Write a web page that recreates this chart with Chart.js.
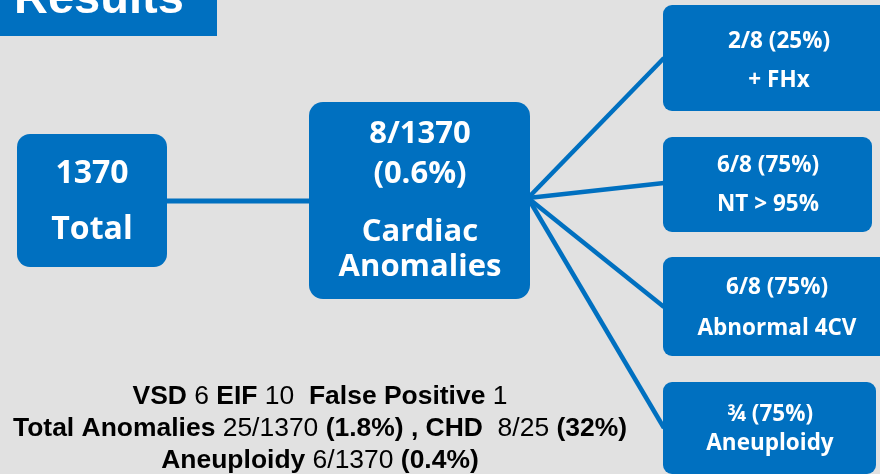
<!DOCTYPE html>
<html>
<head>
<meta charset="utf-8">
<script src="https://cdn.jsdelivr.net/npm/chart.js@4/dist/chart.umd.min.js"></script>
<style>
html,body{margin:0;padding:0;background:#e1e1e1;}
#wrap{width:880px;height:474px;position:relative;}
</style>
</head>
<body>
<div id="wrap"><canvas id="c" width="880" height="474"></canvas></div>
<script>
// ---- content (data) ----
const titleText = "Results";
const totalLines = ["1370", "Total"];
const cardiacLines = ["8/1370", "(0.6%)", "Cardiac", "Anomalies"];
const markerValues = ["2/8 (25%)", "6/8 (75%)", "6/8 (75%)", "¾ (75%)"];
const markerNames = ["+ FHx", "NT > 95%", "Abnormal 4CV", "Aneuploidy"];
const summaryLine1 = [["VSD", 1], [" 6 ", 0], ["EIF", 1], [" 10  ", 0], ["False Positive", 1], [" 1", 0]];
const summaryLine2 = [["Total Anomalies", 1], [" 25/1370 ", 0], ["(1.8%)", 1], [" , CHD", 1], ["  8/25 ", 0], ["(32%)", 1]];
const summaryLine3 = [["Aneuploidy", 1], [" 6/1370 ", 0], ["(0.4%)", 1]];

// ---- layout (positions / sizes, in data units of the 880x474 scales) ----
const BLUE = "#0070c0";
const BG = "#e1e1e1";
const totalBox = {x0: 17, y0: 134, x1: 167, y1: 267, r: 13, cx: 92, ys: [172, 228]};
const cardiacBox = {x0: 309, y0: 102, x1: 530, y1: 299, r: 14, cx: 420, ys: [132, 172, 230, 265]};
const markerBoxes = [
  {x0: 663, y0: 5, x1: 895, y1: 111, cx: 779, ys: [40, 79]},
  {x0: 663, y0: 137, x1: 872, y1: 232, cx: 768, ys: [164, 203]},
  {x0: 663, y0: 257, x1: 895, y1: 356, cx: 777, ys: [286, 327]},
  {x0: 663, y0: 382, x1: 876, y1: 474, cx: 770, ys: [413, 442]}
];
const hub = {x: 530, y: 198};
const markerEnds = [{x: 663, y: 58}, {x: 663, y: 183}, {x: 663, y: 307}, {x: 663, y: 428}];
const summaryYs = [394.5, 426.5, 459];
const summaryCx = 320;
const summaryWidth2 = 614;

const connectorData = [
  [{x: totalBox.x1 - 2, y: 201}, {x: cardiacBox.x0 + 2, y: 201}]
].concat(markerEnds.map(e => [{x: hub.x - 2, y: hub.y}, {x: e.x + 1, y: e.y}]));

const datasets = connectorData.map((d, i) => ({
  data: d,
  showLine: true,
  borderColor: BLUE,
  borderWidth: i === 0 ? 5 : 4.5,
  pointRadius: 0,
  borderCapStyle: 'butt',
  clip: false
}));

function rr(ctx, x0, y0, x1, y1, r) {
  ctx.beginPath();
  ctx.roundRect(x0, y0, x1 - x0, y1 - y0, r);
  ctx.fill();
}

const diagramPlugin = {
  id: 'diagram',
  beforeDraw(chart) {
    const ctx = chart.ctx;
    ctx.save();
    ctx.fillStyle = BG;
    ctx.fillRect(0, 0, chart.width, chart.height);
    ctx.restore();
  },
  afterDatasetsDraw(chart) {
    const ctx = chart.ctx;
    const xs = chart.scales.x, ys = chart.scales.y;
    const X = v => xs.getPixelForValue(v), Y = v => ys.getPixelForValue(v);
    ctx.save();
    // title
    ctx.fillStyle = BLUE;
    ctx.fillRect(X(0), Y(0), X(217) - X(0), Y(36) - Y(0));
    ctx.fillStyle = "#fff";
    ctx.font = "bold 47px 'Liberation Sans', Arial, sans-serif";
    ctx.textBaseline = "alphabetic";
    ctx.textAlign = "left";
    ctx.fillText(titleText, X(14), Y(13));

    const drawBoxText = (box, lines, size) => {
      ctx.fillStyle = "#fff";
      ctx.font = "bold " + size + "px 'Open Sans', 'Noto Sans', sans-serif";
      ctx.textAlign = "center";
      ctx.textBaseline = "alphabetic";
      const cap = size * 0.714;
      lines.forEach((t, i) => ctx.fillText(t, X(box.cx), Y(box.ys[i]) + cap / 2));
    };
    // big boxes
    ctx.fillStyle = BLUE;
    rr(ctx, X(totalBox.x0), Y(totalBox.y0), X(totalBox.x1), Y(totalBox.y1), totalBox.r);
    drawBoxText(totalBox, totalLines, 32);
    ctx.fillStyle = BLUE;
    rr(ctx, X(cardiacBox.x0), Y(cardiacBox.y0), X(cardiacBox.x1), Y(cardiacBox.y1), cardiacBox.r);
    drawBoxText(cardiacBox, cardiacLines, 31);
    // marker boxes
    markerBoxes.forEach((b, i) => {
      ctx.fillStyle = BLUE;
      rr(ctx, X(b.x0), Y(b.y0), X(b.x1), Y(b.y1), 9);
      drawBoxText(b, [markerValues[i], markerNames[i]], 22.5);
    });

    // summary text
    const size = 26;
    const fB = "bold " + size + "px 'Liberation Sans', Arial, sans-serif";
    const fN = size + "px 'Liberation Sans', Arial, sans-serif";
    const widthOf = runs => runs.reduce((s, r) => { ctx.font = r[1] ? fB : fN; return s + ctx.measureText(r[0]).width; }, 0);
    const sx = summaryWidth2 / widthOf(summaryLine2);
    ctx.fillStyle = "#000";
    ctx.textAlign = "left";
    ctx.textBaseline = "alphabetic";
    const capS = size * 0.716;
    [summaryLine1, summaryLine2, summaryLine3].forEach((runs, li) => {
      const w = widthOf(runs) * sx;
      ctx.save();
      ctx.translate(X(summaryCx) - w / 2, Y(summaryYs[li]) + capS / 2);
      ctx.scale(sx, 1);
      let x = 0;
      runs.forEach(r => {
        ctx.font = r[1] ? fB : fN;
        ctx.fillText(r[0], x, 0);
        x += ctx.measureText(r[0]).width;
      });
      ctx.restore();
    });
    ctx.restore();
  }
};

new Chart(document.getElementById('c'), {
  type: 'scatter',
  data: {datasets},
  options: {
    responsive: false,
    animation: false,
    layout: {padding: 0},
    plugins: {legend: {display: false}, tooltip: {enabled: false}, title: {display: false}},
    scales: {
      x: {type: 'linear', min: 0, max: 880, display: false},
      y: {type: 'linear', min: 0, max: 474, reverse: true, display: false}
    },
    events: []
  },
  plugins: [diagramPlugin]
});
</script>
</body>
</html>
